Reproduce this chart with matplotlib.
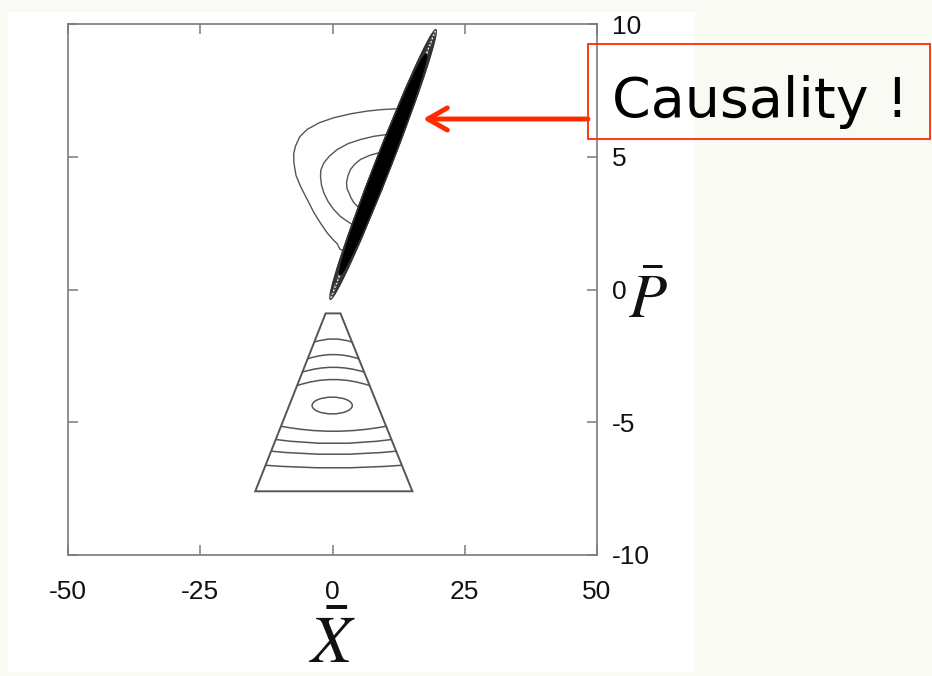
import numpy as np
import matplotlib
matplotlib.use("Agg")
import matplotlib.pyplot as plt
from matplotlib import patches, transforms
from matplotlib.path import Path

plt.rcParams["mathtext.fontset"] = "stix"
plt.rcParams["font.family"] = ["Liberation Sans", "DejaVu Sans"]

# ---- data -------------------------------------------------------------
x_ticks = [-50, -25, 0, 25, 50]
x_tick_labels = ["-50", "-25", "0", "25", "50"]
y_ticks = [-10, -5, 0, 5, 10]
y_tick_labels = ["-10", "-5", "0", "5", "10"]

# squeezed state: nested elliptical contours (centre, tip of long axis, half width in X)
band_center = (9.56, 4.71)
band_tip = (19.5, 9.79)
band_half_width = 1.65
band_scales = [1.0, 0.975, 0.95, 0.925, 0.9, 0.875, 0.85, 0.82]
band_core_scale = 0.82

# side lobes attached to the band
lobe_outer_x = [12.6, 9.5, 6.57, 3.5, 0.25, -2.5, -4.8, -6.2, -7.0, -7.35, -7.3,
                -6.9, -6.06, -4.8, -3.5, -2.2, -1.0, 0.1, 0.9, 1.4, 2.2]
lobe_outer_y = [6.81, 6.78, 6.72, 6.62, 6.47, 6.28, 6.03, 5.75, 5.40, 5.10, 4.77,
                4.30, 3.89, 3.40, 2.89, 2.48, 2.13, 1.88, 1.72, 1.52, 1.45]
lobe_mid_x = [10.36, 7.8, 5.3, 3.0, 0.88, -0.6, -1.64, -2.2, -2.27, -2.1, -1.64,
              -0.8, 0.25, 1.5, 2.78, 3.72]
lobe_mid_y = [5.84, 5.77, 5.65, 5.50, 5.27, 5.02, 4.77, 4.50, 4.27, 3.95, 3.64,
              3.30, 3.01, 2.75, 2.57, 2.45]
lobe_inner_x = [8.77, 7.0, 5.3, 4.2, 3.4, 2.9, 2.65, 2.75, 3.1, 3.5, 4.04, 4.6,
                5.3, 6.0]
lobe_inner_y = [5.15, 5.05, 4.90, 4.72, 4.52, 4.27, 4.02, 3.80, 3.64, 3.45, 3.27,
                3.15, 3.08, 3.05]

# truncated triangle (outer contour of the lower state)
tri_x = [-14.6, -1.3, 1.5, 15.1]
tri_y = [-7.6, -0.9, -0.9, -7.6]

# inner contours of the lower state: height at the middle and where they meet the sides
arc_mid_y = [-1.86, -2.45, -2.93, -3.39, -5.34, -5.80, -6.21, -6.72]
arc_edge_y = [-1.98, -2.61, -3.11, -3.62, -5.15, -5.65, -6.09, -6.62]

# innermost closed contour
core_center = (-0.06, -4.37)
core_width = 7.6
core_height = 0.63

# ---- figure -----------------------------------------------------------
W, H = 932, 676
fig = plt.figure(figsize=(W / 100, H / 100), dpi=100, facecolor="#fafaf4")


def fx(px):
    return px / W


def fy(py):
    return 1 - py / H


fig.patches.append(patches.Rectangle((fx(8), fy(672)), fx(695) - fx(8), fy(12) - fy(672),
                                     transform=fig.transFigure, facecolor="white",
                                     edgecolor="none", zorder=-10))

ax = fig.add_axes([fx(68), fy(555), fx(597) - fx(68), fy(24) - fy(555)])
ax.set_facecolor("white")
ax.set_xlim(-50, 50)
ax.set_ylim(-10, 10)

line_color = "#555555"

# squeezed band: outer contours as outlines, the densely packed interior solid
cx, cy = band_center
mx, my = band_tip[0] - cx, band_tip[1] - cy


def band_transform(s):
    mat = np.array([[s * mx, s * band_half_width, cx],
                    [s * my, 0.0, cy],
                    [0.0, 0.0, 1.0]])
    return transforms.Affine2D(mat) + ax.transData


for s in band_scales:
    ax.add_patch(patches.Circle((0, 0), 1, fill=False, edgecolor="#333333", lw=0.9,
                                transform=band_transform(s), zorder=3))
ax.add_patch(patches.Circle((0, 0), 1, facecolor="black", edgecolor="black", lw=0.8,
                            transform=band_transform(band_core_scale), zorder=3))

for xs, ys in [(lobe_outer_x, lobe_outer_y), (lobe_mid_x, lobe_mid_y),
               (lobe_inner_x, lobe_inner_y)]:
    ax.plot(xs, ys, color=line_color, lw=1.0, zorder=2)

# lower state
tri = patches.Polygon(np.column_stack([tri_x, tri_y]), closed=True, fill=False,
                      edgecolor=line_color, lw=1.4)
ax.add_patch(tri)

left_side_y, left_side_x = [tri_y[0], tri_y[1]], [tri_x[0], tri_x[1]]
right_side_y, right_side_x = [tri_y[3], tri_y[2]], [tri_x[3], tri_x[2]]
for ym, ye in zip(arc_mid_y, arc_edge_y):
    xl = np.interp(ye, left_side_y, left_side_x)
    xr = np.interp(ye, right_side_y, right_side_x)
    p0 = np.array([xl, ye])
    p2 = np.array([xr, ye])
    mid = np.array([(xl + xr) / 2, ym])
    p1 = 2 * mid - 0.5 * (p0 + p2)
    path = Path([p0, p1, p2], [Path.MOVETO, Path.CURVE3, Path.CURVE3])
    ax.add_patch(patches.PathPatch(path, fill=False, edgecolor=line_color, lw=1.1))

ax.add_patch(patches.Ellipse(core_center, core_width, core_height, fill=False,
                             edgecolor=line_color, lw=1.1))

# axes styling
for sp in ax.spines.values():
    sp.set_color("#7a7a7a")
    sp.set_linewidth(1.2)
ax.set_xticks(x_ticks)
ax.set_xticklabels(x_tick_labels)
ax.set_yticks(y_ticks)
ax.set_yticklabels(y_tick_labels)
ax.tick_params(axis="both", direction="in", length=7, width=1.1, color="#7a7a7a",
               labelsize=19, labelcolor="#111111")
ax.tick_params(axis="x", top=True, bottom=True, pad=18)
ax.tick_params(axis="y", left=True, right=True, labelleft=False, labelright=True, pad=11)

ax.text(0.5, (555 - 663) / 531, r"$\bar{X}$", transform=ax.transAxes, ha="center",
        va="baseline", fontsize=48, color="#111111")
ax.text((628 - 68) / 529, (555 - 318) / 531, r"$\bar{P}$", transform=ax.transAxes,
        ha="left", va="baseline", fontsize=45, color="#111111")

# annotation
red = "#ff2a00"
fig.add_artist(patches.Rectangle((fx(588), fy(139)), fx(930) - fx(588), fy(44) - fy(139),
                                 transform=fig.transFigure, fill=False, edgecolor=red,
                                 lw=1.3))
fig.add_artist(patches.FancyArrowPatch(
    posA=(fx(588), fy(119)), posB=(fx(423), fy(119)), transform=fig.transFigure,
    arrowstyle=patches.ArrowStyle("->", head_length=14, head_width=8),
    mutation_scale=1, color=red, lw=3.5, capstyle="round", joinstyle="round",
    shrinkA=0, shrinkB=0))
fig.text(fx(612), fy(117), "Causality !", fontsize=40, family="DejaVu Sans",
         va="baseline", ha="left", color="black")

fig.savefig("out.png", dpi=100, facecolor=fig.get_facecolor())
